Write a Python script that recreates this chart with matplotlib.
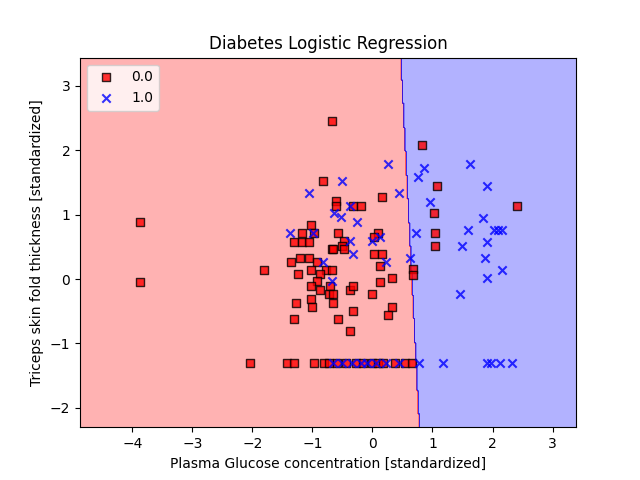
import numpy as np
import matplotlib
matplotlib.use('Agg')
import matplotlib.pyplot as plt
from matplotlib.colors import ListedColormap

# standardized features: [glucose, skin thickness]
neg_x = [-3.87, -3.87, -1.80, -0.68, -0.83, -0.61, -0.61, -0.33, -0.19, 0.16,
         -1.03, -1.18, -0.98, -1.31, -1.18, -1.06, -0.58, -0.47, -0.51, -0.67,
         -0.65, -0.48, 0.09, 0.02, 0.02, 0.16, 0.12, 0.32, 0.12, -0.01,
         0.32, 0.26, -1.35, -1.21, -1.06, -0.93, -1.24, -1.03, -0.78, -0.68,
         -0.87, -0.93, -1.03, -0.87, -0.71, -0.72, -0.65, -0.38, -0.33, -1.03,
         -1.28, -1.00, -0.65, -0.33, -1.31, -0.58, -0.38,
         0.68, 0.68, 0.82, 1.07, 1.02, 1.04, 1.04, 2.40,
         -2.04, -1.43, -1.31, -0.97, -0.80, -0.72, -0.59, -0.44, -0.28, -0.15,
         0.00, 0.10, 0.18, 0.38, 0.55, 0.66]
neg_y = [0.89, -0.04, 0.14, 2.46, 1.52, 1.21, 1.14, 1.14, 1.14, 1.27,
         0.84, 0.71, 0.71, 0.58, 0.58, 0.58, 0.71, 0.59, 0.51, 0.46,
         0.46, 0.46, 0.71, 0.65, 0.39, 0.39, 0.21, 0.02, -0.04, -0.23,
         -0.43, -0.55, 0.27, 0.33, 0.33, 0.27, 0.08, 0.14, 0.14, 0.14,
         0.08, -0.03, -0.10, -0.17, -0.10, -0.23, -0.23, -0.17, -0.10, -0.31,
         -0.37, -0.43, -0.37, -0.49, -0.62, -0.62, -0.80,
         0.16, 0.06, 2.09, 1.45, 1.02, 0.71, 0.52, 1.14,
         -1.30, -1.30, -1.30, -1.30, -1.30, -1.30, -1.30, -1.30, -1.30, -1.30,
         -1.30, -1.30, -1.30, -1.30, -1.30, -1.30]

pos_x = [0.26, -0.51, -1.06, 0.44, -0.38, -0.64, -0.53, -0.26, -1.38, -0.99,
         -0.38, 0.00, 0.12, -0.33, 0.22, -0.83, -0.68, 0.62,
         0.86, 0.76, 1.62, 1.91, 0.96, 1.84, 1.59, 2.02, 2.09, 2.16,
         0.72, 1.49, 1.91, 1.87, 2.16, 1.91, 1.46,
         -0.65, -0.51, -0.34, -0.19, -0.09, 0.06, 0.22, 0.45, 0.78, 1.17,
         1.91, 1.97, 2.12, 2.32]
pos_y = [1.78, 1.52, 1.33, 1.33, 1.14, 1.02, 0.97, 0.89, 0.71, 0.71,
         0.59, 0.59, 0.65, 0.39, 0.27, 0.27, -0.03, 0.33,
         1.72, 1.58, 1.78, 1.45, 1.20, 0.95, 0.77, 0.77, 0.77, 0.77,
         0.71, 0.52, 0.58, 0.33, 0.14, 0.02, -0.23,
         -1.30, -1.30, -1.30, -1.30, -1.30, -1.30, -1.30, -1.30, -1.30, -1.30,
         -1.30, -1.30, -1.30, -1.30]

# logistic regression weights (bias, glucose, skin), estimated from the boundary
w = [-0.657, 1.0, 0.054]

X = np.vstack([np.column_stack([neg_x, neg_y]), np.column_stack([pos_x, pos_y])])
y = np.array([0.0] * len(neg_x) + [1.0] * len(pos_x))

def predict(pts):
    return (w[0] + pts @ np.array(w[1:]) > 0).astype(int)

markers = ('s', 'x')
colors = ('red', 'blue')
cmap = ListedColormap(colors)

resolution = 0.02
x1_min, x1_max = X[:, 0].min() - 1, X[:, 0].max() + 1
x2_min, x2_max = X[:, 1].min() - 1, X[:, 1].max() + 1
xx1, xx2 = np.meshgrid(np.arange(x1_min, x1_max, resolution),
                       np.arange(x2_min, x2_max, resolution))
Z = predict(np.array([xx1.ravel(), xx2.ravel()]).T).reshape(xx1.shape)

plt.figure(figsize=(6.4, 4.8), dpi=100)
plt.contourf(xx1, xx2, Z, alpha=0.3, cmap=cmap)
plt.xlim(xx1.min(), xx1.max())
plt.ylim(xx2.min(), xx2.max())

for idx, cl in enumerate(np.unique(y)):
    kw = dict(edgecolor='black') if markers[idx] == 's' else {}
    plt.scatter(X[y == cl, 0], X[y == cl, 1], alpha=0.8, c=colors[idx],
                marker=markers[idx], label=cl, **kw)

plt.title('Diabetes Logistic Regression')
plt.xlabel('Plasma Glucose concentration [standardized]')
plt.ylabel('Triceps skin fold thickness [standardized]')
plt.legend(loc='upper left')
plt.savefig('out.png')
